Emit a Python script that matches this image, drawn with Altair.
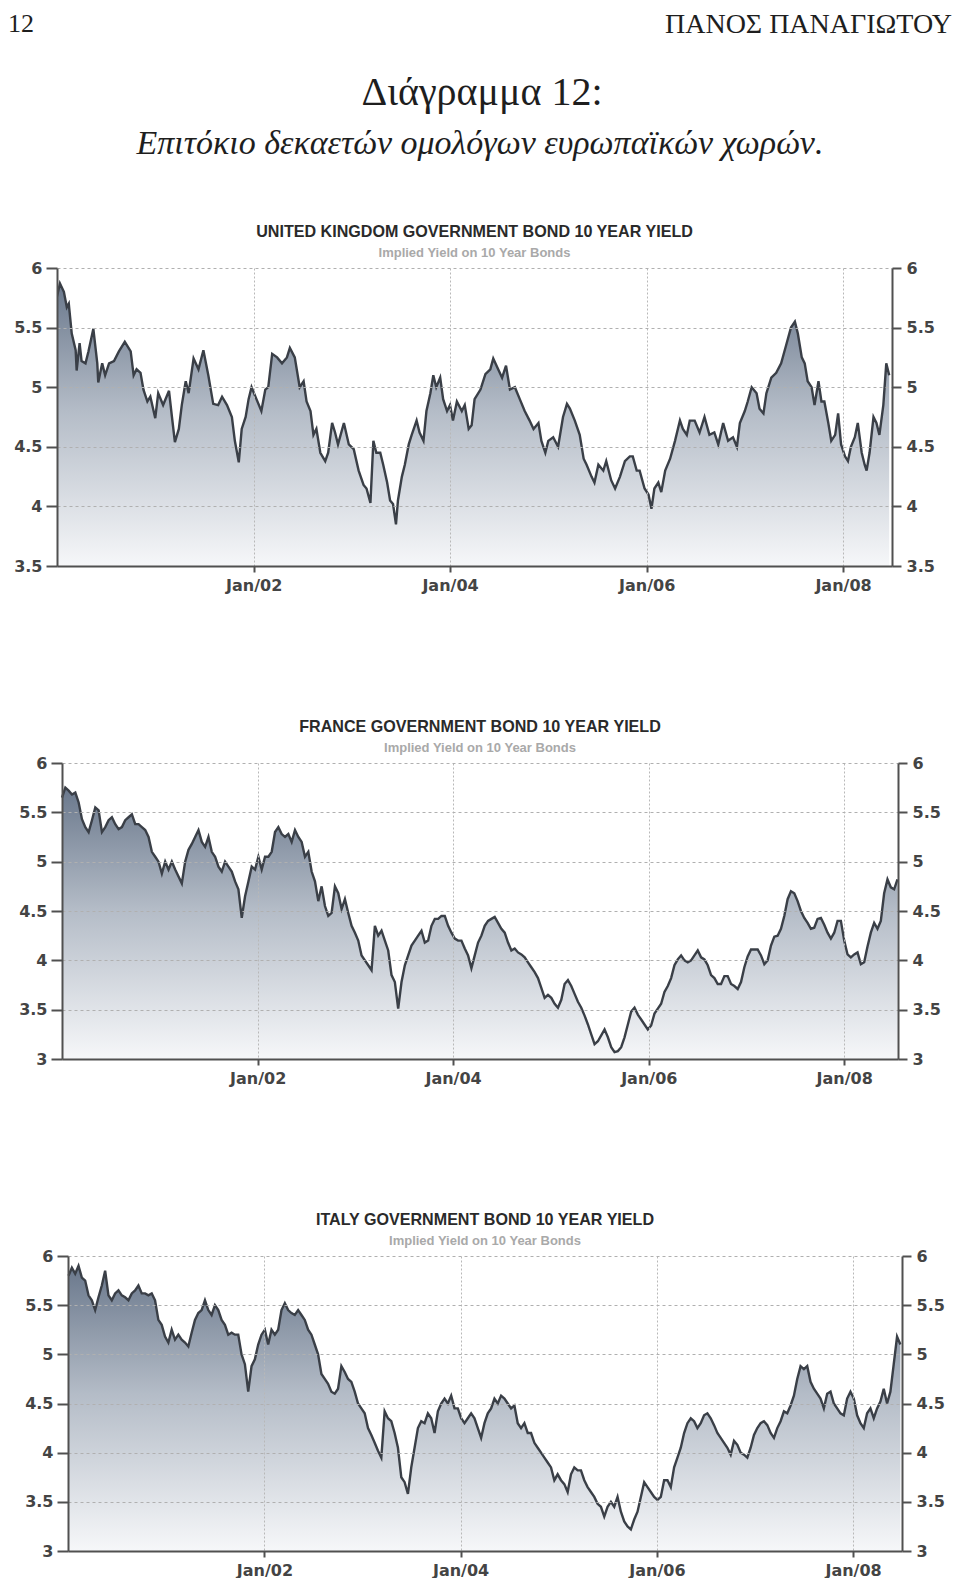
import altair as alt
import numpy as np
import pandas as pd

# ---------------- text ----------------
PAGE_NO = "12"
AUTHOR = "ΠΑΝΟΣ ΠΑΝΑΓΙΩΤΟΥ"
FIG_LABEL = "Διάγραμμα 12:"
FIG_CAPTION = "Επιτόκιο δεκαετών ομολόγων ευρωπαϊκών χωρών."
SUBTITLE = "Implied Yield on 10 Year Bonds"
UK_TITLE = "UNITED KINGDOM GOVERNMENT BOND 10 YEAR YIELD"
FR_TITLE = "FRANCE GOVERNMENT BOND 10 YEAR YIELD"
IT_TITLE = "ITALY GOVERNMENT BOND 10 YEAR YIELD"

# ---------------- ticks ----------------
X_TICK_YEARS = [2002, 2004, 2006, 2008]
UK_Y_TICKS = [3.5, 4, 4.5, 5, 5.5, 6]
EU_Y_TICKS = [3, 3.5, 4, 4.5, 5, 5.5, 6]

# ---------------- data ----------------
# United Kingdom: time in decimal years, yield in %
UK_YEAR = [
    2000.00, 2000.03, 2000.07, 2000.10, 2000.12, 2000.15, 2000.19, 2000.20, 2000.23, 2000.25,
    2000.29, 2000.32, 2000.37, 2000.41, 2000.42, 2000.46, 2000.49, 2000.53, 2000.58, 2000.63,
    2000.69, 2000.75, 2000.78, 2000.81, 2000.85, 2000.88, 2000.92, 2000.95, 2001.00, 2001.03,
    2001.08, 2001.14, 2001.17, 2001.20, 2001.24, 2001.27, 2001.31, 2001.34, 2001.39, 2001.44,
    2001.49, 2001.54, 2001.59, 2001.64, 2001.68, 2001.73, 2001.78, 2001.81, 2001.85, 2001.88,
    2001.92, 2001.95, 2001.98, 2002.03, 2002.08, 2002.12, 2002.15, 2002.19, 2002.24, 2002.29,
    2002.34, 2002.37, 2002.42, 2002.47, 2002.51, 2002.54, 2002.58, 2002.61, 2002.64, 2002.68,
    2002.73, 2002.76, 2002.80, 2002.83, 2002.86, 2002.92, 2002.97, 2003.02, 2003.07, 2003.12,
    2003.15, 2003.19, 2003.22, 2003.25, 2003.29, 2003.32, 2003.36, 2003.39, 2003.42, 2003.45,
    2003.47, 2003.51, 2003.54, 2003.58, 2003.61, 2003.66, 2003.69, 2003.73, 2003.76, 2003.80,
    2003.83, 2003.86, 2003.90, 2003.93, 2003.97, 2004.00, 2004.03, 2004.07, 2004.12, 2004.15,
    2004.19, 2004.22, 2004.25, 2004.31, 2004.36, 2004.41, 2004.44, 2004.49, 2004.53, 2004.57,
    2004.61, 2004.66, 2004.71, 2004.76, 2004.81, 2004.85, 2004.90, 2004.93, 2004.97, 2005.00,
    2005.05, 2005.10, 2005.15, 2005.19, 2005.22, 2005.27, 2005.32, 2005.36, 2005.39, 2005.44,
    2005.47, 2005.51, 2005.56, 2005.59, 2005.64, 2005.68, 2005.73, 2005.78, 2005.83, 2005.86,
    2005.90, 2005.93, 2005.98, 2006.02, 2006.05, 2006.08, 2006.12, 2006.15, 2006.19, 2006.24,
    2006.29, 2006.34, 2006.37, 2006.41, 2006.44, 2006.49, 2006.54, 2006.59, 2006.64, 2006.69,
    2006.73, 2006.78, 2006.83, 2006.88, 2006.92, 2006.95, 2007.00, 2007.03, 2007.07, 2007.12,
    2007.15, 2007.19, 2007.22, 2007.27, 2007.32, 2007.37, 2007.42, 2007.47, 2007.51, 2007.54,
    2007.58, 2007.61, 2007.64, 2007.68, 2007.71, 2007.75, 2007.78, 2007.81, 2007.85, 2007.88,
    2007.92, 2007.95, 2007.98, 2008.02, 2008.05, 2008.08, 2008.12, 2008.15, 2008.19, 2008.22,
    2008.24, 2008.27, 2008.31, 2008.34, 2008.37, 2008.41, 2008.44, 2008.47,
]
UK_YIELD = [
    5.76, 5.87, 5.80, 5.67, 5.70, 5.45, 5.31, 5.14, 5.37, 5.22,
    5.20, 5.30, 5.49, 5.20, 5.04, 5.20, 5.10, 5.20, 5.22, 5.30,
    5.38, 5.30, 5.10, 5.15, 5.12, 4.98, 4.88, 4.92, 4.74, 4.95,
    4.85, 4.97, 4.75, 4.54, 4.65, 4.85, 5.05, 4.95, 5.24, 5.15,
    5.31, 5.10, 4.86, 4.85, 4.92, 4.85, 4.75, 4.55, 4.37, 4.65,
    4.75, 4.90, 5.00, 4.90, 4.80, 4.98, 5.00, 5.28, 5.25, 5.20,
    5.25, 5.33, 5.25, 5.00, 5.05, 4.88, 4.80, 4.60, 4.65, 4.45,
    4.38, 4.45, 4.70, 4.62, 4.52, 4.70, 4.52, 4.48, 4.30, 4.18,
    4.15, 4.03, 4.55, 4.45, 4.45, 4.35, 4.20, 4.05, 4.02, 3.85,
    4.05, 4.25, 4.35, 4.52, 4.60, 4.72, 4.62, 4.55, 4.80, 4.95,
    5.10, 5.00, 5.08, 4.90, 4.80, 4.85, 4.72, 4.88, 4.80, 4.85,
    4.65, 4.68, 4.90, 4.98, 5.11, 5.15, 5.24, 5.15, 5.08, 5.18,
    4.98, 5.00, 4.90, 4.80, 4.72, 4.65, 4.70, 4.55, 4.45, 4.55,
    4.58, 4.50, 4.75, 4.86, 4.82, 4.72, 4.60, 4.40, 4.35, 4.25,
    4.20, 4.35, 4.30, 4.38, 4.22, 4.15, 4.25, 4.38, 4.42, 4.42,
    4.30, 4.30, 4.15, 4.10, 3.98, 4.15, 4.20, 4.12, 4.30, 4.40,
    4.55, 4.72, 4.65, 4.60, 4.72, 4.72, 4.62, 4.75, 4.60, 4.62,
    4.52, 4.70, 4.55, 4.58, 4.50, 4.70, 4.80, 4.88, 5.00, 4.95,
    4.82, 4.78, 4.95, 5.08, 5.12, 5.20, 5.35, 5.50, 5.55, 5.45,
    5.25, 5.20, 5.05, 5.00, 4.85, 5.05, 4.88, 4.88, 4.70, 4.55,
    4.60, 4.78, 4.52, 4.42, 4.38, 4.50, 4.58, 4.70, 4.45, 4.35,
    4.30, 4.45, 4.75, 4.70, 4.60, 4.85, 5.20, 5.10,
]

# France: evenly spaced observations between these dates
FR_FIRST, FR_LAST = "2000-01-01", "2008-07-18"
FR_YIELD = [
    5.65, 5.75, 5.72, 5.68, 5.70, 5.60, 5.43, 5.35, 5.30, 5.42,
    5.55, 5.52, 5.30, 5.35, 5.42, 5.45, 5.38, 5.33, 5.35, 5.42,
    5.45, 5.48, 5.38, 5.38, 5.35, 5.32, 5.25, 5.10, 5.05, 5.00,
    4.88, 5.00, 4.92, 5.00, 4.92, 4.85, 4.78, 5.00, 5.12, 5.18,
    5.25, 5.32, 5.20, 5.15, 5.25, 5.10, 5.05, 4.95, 4.90, 5.00,
    4.95, 4.90, 4.80, 4.72, 4.43, 4.65, 4.80, 4.95, 4.92, 5.05,
    4.92, 5.05, 5.05, 5.10, 5.30, 5.35, 5.28, 5.25, 5.28, 5.20,
    5.32, 5.25, 5.20, 5.05, 5.10, 4.90, 4.80, 4.60, 4.75, 4.55,
    4.45, 4.48, 4.75, 4.68, 4.52, 4.62, 4.48, 4.35, 4.28, 4.20,
    4.05, 4.00, 3.95, 3.90, 4.35, 4.25, 4.30, 4.20, 4.10, 3.85,
    3.78, 3.51, 3.78, 3.95, 4.05, 4.15, 4.20, 4.25, 4.30, 4.18,
    4.20, 4.35, 4.42, 4.42, 4.45, 4.45, 4.35, 4.28, 4.22, 4.20,
    4.20, 4.12, 4.05, 3.92, 4.05, 4.18, 4.25, 4.35, 4.40, 4.42,
    4.44, 4.38, 4.32, 4.28, 4.18, 4.10, 4.12, 4.08, 4.06, 4.03,
    3.98, 3.93, 3.88, 3.82, 3.72, 3.62, 3.65, 3.62, 3.56, 3.52,
    3.60, 3.76, 3.80, 3.74, 3.66, 3.58, 3.52, 3.44, 3.35, 3.25,
    3.15, 3.18, 3.24, 3.30, 3.22, 3.12, 3.07, 3.08, 3.12, 3.22,
    3.35, 3.48, 3.52, 3.45, 3.40, 3.35, 3.30, 3.34, 3.46, 3.51,
    3.56, 3.68, 3.74, 3.82, 3.95, 4.01, 4.05, 4.00, 3.98, 4.00,
    4.05, 4.10, 4.03, 4.01, 3.95, 3.85, 3.82, 3.76, 3.76, 3.84,
    3.84, 3.76, 3.74, 3.71, 3.78, 3.93, 4.04, 4.11, 4.11, 4.11,
    4.05, 3.96, 4.00, 4.15, 4.24, 4.25, 4.32, 4.45, 4.62, 4.70,
    4.68, 4.60, 4.50, 4.43, 4.38, 4.32, 4.33, 4.42, 4.43, 4.36,
    4.28, 4.22, 4.28, 4.40, 4.40, 4.20, 4.06, 4.03, 4.06, 4.08,
    3.96, 3.98, 4.14, 4.28, 4.38, 4.32, 4.40, 4.68, 4.82, 4.74,
    4.72, 4.82,
]

# Italy: evenly spaced observations between these dates
IT_FIRST, IT_LAST = "2000-01-03", "2008-06-25"
IT_YIELD = [
    5.80, 5.88, 5.82, 5.90, 5.78, 5.75, 5.60, 5.55, 5.45, 5.58,
    5.70, 5.85, 5.60, 5.55, 5.62, 5.65, 5.60, 5.58, 5.55, 5.62,
    5.65, 5.70, 5.62, 5.62, 5.60, 5.62, 5.55, 5.35, 5.30, 5.18,
    5.12, 5.25, 5.15, 5.20, 5.15, 5.12, 5.08, 5.22, 5.35, 5.42,
    5.45, 5.55, 5.45, 5.40, 5.50, 5.45, 5.35, 5.30, 5.20, 5.22,
    5.20, 5.20, 5.00, 4.90, 4.62, 4.88, 4.95, 5.10, 5.20, 5.25,
    5.10, 5.25, 5.20, 5.25, 5.45, 5.52, 5.45, 5.42, 5.40, 5.45,
    5.40, 5.35, 5.25, 5.20, 5.10, 5.00, 4.80, 4.75, 4.70, 4.62,
    4.60, 4.65, 4.88, 4.82, 4.75, 4.72, 4.62, 4.50, 4.45, 4.40,
    4.25, 4.18, 4.10, 4.02, 3.95, 4.42, 4.35, 4.32, 4.20, 4.05,
    3.75, 3.70, 3.58, 3.85, 4.05, 4.25, 4.32, 4.30, 4.40, 4.35,
    4.20, 4.42, 4.50, 4.55, 4.50, 4.58, 4.45, 4.45, 4.35, 4.30,
    4.35, 4.40, 4.35, 4.25, 4.15,
    4.30, 4.40, 4.45, 4.55, 4.50, 4.58, 4.55, 4.50, 4.45,
    4.48, 4.30, 4.25, 4.30, 4.20, 4.20, 4.10, 4.05, 4.00, 3.95,
    3.90, 3.85, 3.72, 3.78, 3.72, 3.68, 3.60, 3.78, 3.85, 3.82,
    3.82, 3.72, 3.65, 3.60, 3.55, 3.48, 3.45, 3.35, 3.45, 3.50,
    3.45, 3.55, 3.40, 3.30, 3.25, 3.22, 3.32, 3.40, 3.55, 3.70,
    3.65, 3.60, 3.55, 3.52, 3.55, 3.72, 3.72, 3.65, 3.85, 3.95,
    4.05, 4.20, 4.30, 4.35, 4.32, 4.25, 4.30, 4.38, 4.40, 4.35,
    4.28, 4.20, 4.15, 4.10, 4.05, 3.98, 4.12, 4.08, 4.00, 3.98,
    3.95, 4.05, 4.18, 4.25, 4.30, 4.32, 4.28, 4.20, 4.15, 4.25,
    4.32, 4.42, 4.40, 4.48, 4.58, 4.75, 4.88, 4.85, 4.88, 4.72,
    4.65, 4.60, 4.55, 4.45, 4.60, 4.62, 4.50, 4.45, 4.40, 4.38,
    4.55, 4.62, 4.55, 4.38, 4.30, 4.25, 4.40, 4.45, 4.35, 4.45,
    4.52, 4.65, 4.50, 4.62, 4.90, 5.18, 5.10,
]

# ---------------- frames ----------------
uk_df = pd.DataFrame({
    "date": pd.Timestamp("2000-01-01")
    + pd.to_timedelta((np.array(UK_YEAR) - 2000.0) * 365.25, unit="D"),
    "v": UK_YIELD,
})
fr_df = pd.DataFrame({"date": pd.date_range(FR_FIRST, FR_LAST, periods=len(FR_YIELD)), "v": FR_YIELD})
it_df = pd.DataFrame({"date": pd.date_range(IT_FIRST, IT_LAST, periods=len(IT_YIELD)), "v": IT_YIELD})

# ---------------- style ----------------
AX_FONT = "DejaVu Sans"
AX_COLOR = "#505050"
LBL_COLOR = "#444444"
GRADIENT = alt.Gradient(
    gradient="linear",
    stops=[
        alt.GradientStop(color="#f6f7f9", offset=0),
        alt.GradientStop(color="#b4bcc7", offset=0.55),
        alt.GradientStop(color="#6a788c", offset=1),
    ],
    x1=1, x2=1, y1=1, y2=0,
)


def text_layer(txt, x, y, **kw):
    return alt.Chart(pd.DataFrame({"t": [txt]})).mark_text(**kw).encode(
        text="t:N", x=alt.value(x), y=alt.value(y)
    )


def panel(df, title, yticks, xdom, x0, x1, height, extra=()):
    """x0/x1: left and right edge of the plotting rectangle inside the panel group."""
    ydom = [yticks[0], yticks[-1]]
    yscale = alt.Scale(domain=ydom, zero=False, nice=False)
    x = alt.X(
        "date:T",
        scale=alt.Scale(domain=xdom, range=[x0, x1]),
        axis=alt.Axis(
            values=[alt.DateTime(year=yr, month=1, date=1) for yr in X_TICK_YEARS],
            format="%b/%y", title=None, grid=True, gridColor="#b8b8b8", gridDash=[2, 2],
            gridWidth=1, domainColor=AX_COLOR, domainWidth=2, tickColor=AX_COLOR,
            tickWidth=2, tickSize=6, labelFont=AX_FONT, labelFontSize=16,
            labelFontWeight="bold", labelColor=LBL_COLOR, labelPadding=5,
            labelFlush=False, zindex=1,
        ),
    )
    left_axis = alt.Axis(
        values=yticks, format=".1~f", orient="left", title=None, grid=True,
        gridColor="#b0b0b0", gridDash=[3, 3], gridWidth=1, domainColor=AX_COLOR,
        domainWidth=2, tickColor=AX_COLOR, tickWidth=2, tickSize=11, labelPadding=4,
        labelFont=AX_FONT, labelFontSize=16, labelFontWeight="bold", labelColor=LBL_COLOR,
        offset=-x0, minExtent=0, zindex=1,
    )
    right_axis = alt.Axis(
        values=yticks, format=".1~f", orient="right", title=None, grid=False,
        domainColor=AX_COLOR, domainWidth=2, tickColor=AX_COLOR, tickWidth=2,
        tickSize=9, labelPadding=5, labelFont=AX_FONT, labelFontSize=16,
        labelFontWeight="bold", labelColor=LBL_COLOR, zindex=1,
    )
    base = alt.Chart(df)
    area = base.mark_area(color=GRADIENT, clip=True).encode(
        x=x, y=alt.Y("v:Q", scale=yscale, axis=left_axis), y2=alt.datum(ydom[0])
    )
    line = base.mark_line(color="#3a3f47", strokeWidth=2.4, clip=True).encode(
        x=x, y=alt.Y("v:Q", scale=yscale, axis=None)
    )
    ghost = base.mark_line(opacity=0).encode(
        x=x, y=alt.Y("v:Q", scale=yscale, axis=right_axis)
    )
    cx = (x0 + x1) / 2
    t1 = text_layer(title, cx, -31, font="Liberation Sans", fontSize=16.1,
                    fontWeight="bold", color="#2a2a2a", align="center", baseline="alphabetic")
    t2 = text_layer(SUBTITLE, cx, -11, font="Liberation Sans", fontSize=13,
                    fontWeight="bold", color="#a9a9a9", align="center", baseline="alphabetic")
    return (
        alt.layer(area, line, ghost, t1, t2, *extra)
        .resolve_scale(y="independent")
        .properties(width=x1, height=height)
    )


serif = "Liberation Serif"
header = [
    text_layer(PAGE_NO, -49, -257, font=serif, fontSize=26, color="#1e1e1e",
               align="left", baseline="top"),
    text_layer(AUTHOR, 895, -257, font=serif, fontSize=28, color="#1e1e1e",
               align="right", baseline="top"),
    text_layer(FIG_LABEL, 425, -163, font=serif, fontSize=40, color="#1e1e1e",
               align="center", baseline="alphabetic"),
    text_layer(FIG_CAPTION, 423, -114, font=serif, fontSize=34, fontStyle="italic",
               color="#1e1e1e", align="center", baseline="alphabetic"),
]

# every panel group starts at page x = 57; the plotting rectangles are offset inside it
uk = panel(uk_df, UK_TITLE, UK_Y_TICKS,
           [alt.DateTime(year=2000, month=1, date=1), alt.DateTime(year=2008, month=7, date=1)],
           0, 835, 298, extra=header)
fr = panel(fr_df, FR_TITLE, EU_Y_TICKS,
           [alt.DateTime(year=2000, month=1, date=1), alt.DateTime(year=2008, month=7, date=20)],
           5, 841, 296)
it = panel(it_df, IT_TITLE, EU_Y_TICKS,
           [alt.DateTime(year=2000, month=1, date=1), alt.DateTime(year=2008, month=7, date=1)],
           11, 845, 295)

chart = (
    alt.concat(uk, fr, it, columns=1, spacing=126, bounds="full")
    .properties(padding={"left": 0, "top": 3, "right": 0, "bottom": 0}, background="white")
    .configure_view(stroke=None)
)

chart.save("out.html", embed_options={"renderer": "svg", "actions": False})
